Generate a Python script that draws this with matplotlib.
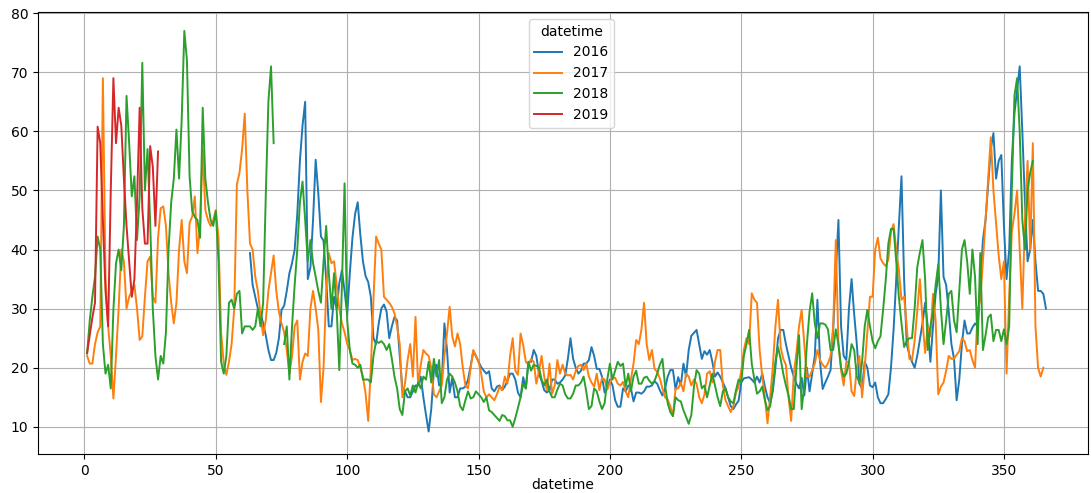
import numpy as np
import pandas as pd
import matplotlib
matplotlib.use("Agg")
import matplotlib.pyplot as plt

nan = np.nan

# ---------------------------------------------------------------------------
# DATA  (daily values, indexed by day of year)
# ---------------------------------------------------------------------------
YEARS = [2016, 2017, 2018, 2019]
FIRST_DAY = {2016: 63, 2017: 1, 2018: 1, 2019: 1}

values_2016 = [
    39.4, 34, 32, 30, 29.3, 27.5, 25.5, 23,                      # 63-70
    21.3, 21.3, 22.5, 25, 29.8, 30.5, 33, 36, 37.7, 40,
    46, 55, 61, 65, 35, 37, 45, 55.2, 49.5, 42.2,
    41.5, 35, 27, 27, 32, 30, 34.3, 36.5, 33, 29,
    36, 42, 46, 48, 42.5, 38, 35.5, 34.5, 32, 25,
    24, 27.5, 30, 30.7, 29.5, 25, 27, 28.6, 28, 22,
    16.5, 16, 15, 15, 16, 17, 17, 18.5, 15, 12,
    9.2, 13, 19.5, 20.5, 17, 17.5, 27.5, 23, 15.8, 18.3,
    15, 15, 16.5, 16.5, 16.8, 18, 20.3, 22.8, 22, 21,
    20.1, 19.5, 19, 19.4, 16.5, 16, 16.8, 17, 16.2, 16.8,
    17.8, 19, 19, 18, 15.8, 15, 18.4, 16.5, 21, 21,
    23, 22, 19, 17.8, 16.2, 15.8, 16.2, 18, 18, 17.3,
    17.5, 18, 18.7, 21.5, 25, 21.5, 20, 19, 19.5, 20.7,
    20.7, 21.3, 23.5, 22, 19.8, 19.8, 18.5, 15.8, 16.5, 18,
    17, 14.5, 13.4, 13.4, 16.5, 16, 17, 16.5, 14.3, 15.8,
    15.8, 15.6, 16, 16.8, 16.8, 17, 17.7, 17.3, 16.2, 15.3,
    16.5, 18.5, 19.6, 19.6, 16.3, 18.4, 17, 20.7, 18.5, 23,
    25.4, 25.9, 26.4, 24, 21.5, 22.8, 22.2, 23, 21, 18.5,
    19.2, 18.5, 17.5, 16.5, 15, 13.5, 13, 13.8, 14.4, 17.5,
    18.2, 18.3, 18.4, 18, 17.5, 18.5, 17.5, 19, 16.8, 15,
    14, 16, 20, 25, 26.4, 26.4, 24, 22, 20, 18.5,
    17.3, 16.5, 18.3, 15.3, 20, 16, 19, 22, 31.5, 21,
    16.4, 17.5, 18.5, 19.6, 26.5, 36, 45, 27, 22, 21.3,
    30, 35, 29, 24, 17.3, 16.5, 21, 20, 17, 16.7,
    17.5, 15, 14, 14, 14.7, 15.5, 20, 26.5, 35, 44,
    52.4, 35, 24, 22.2, 21, 20, 22, 24.7, 27.5, 31,
    27, 21, 27, 32.5, 35.5, 50, 35.4, 34, 29.5, 24,
    21.5, 14.5, 18, 24, 28, 25.8, 25.8, 26.8, 27.5, 27,
    34, 41.6, 45, 51, 57, 59.7, 52, 55, 56, 44,
    35, 40, 55, 63, 67, 71, 60, 48, 38, 40,
    45, 38, 33, 33, 32.5, 30,                                     # 361-366
]

values_2017 = [
    22, 20.7, 20.7, 24, 26, 27, 69, 35, 27, 22,
    14.8, 22, 30, 40, 38, 30, 32, 33, 34, 30,
    24.7, 25.3, 32, 38, 38.8, 32, 31, 42, 47, 47.3,
    44, 36, 31, 27.5, 31, 40, 45, 38, 36, 44.5,
    45.6, 49, 39.4, 44, 57, 46.7, 45, 44, 45, 46.7,
    42, 26, 20.7, 18.8, 21, 24, 30, 51, 53, 57,
    63, 50, 41, 40, 35.4, 33, 29, 25.5, 28, 33,
    36, 39, 33, 29.5, 27.5, 26, 23, 19, 22, 27,
    28, 18, 21, 22.4, 22, 30, 33, 30, 26.4, 14.2,
    20, 33, 39.4, 37.7, 38, 34, 30, 27.5, 26, 24,
    23, 21.3, 21.5, 21.3, 20, 18.5, 15.6, 11, 20, 31.5,
    42.2, 41, 40, 32, 31.5, 31, 30.3, 29.2, 27, 24,
    15, 17.3, 21.3, 24, 18.5, 28.6, 17, 20.5, 23, 22.4,
    22, 20, 15.5, 15, 16, 17, 22, 25.8, 30.3, 25.3,
    23.6, 25.8, 24, 20, 17, 16.5, 20, 23, 22, 21,
    19, 16, 15, 15.5, 15, 14.5, 15.5, 16.8, 16.2, 18.5,
    17.3, 22, 25, 19.5, 18.8, 25.8, 23.8, 21, 20.5, 21.5,
    21, 17.3, 19.4, 22, 18.5, 16.2, 20.7, 15.6, 17, 21.3,
    19, 20.5, 19, 18.7, 18.8, 18, 19.5, 20.3, 20.5, 19.6,
    20.7, 18.5, 17.5, 16.8, 19, 16.2, 18.3, 18, 16.3, 17.5,
    18.3, 18.3, 17.3, 17, 17.6, 16, 15, 18, 20.7, 24.7,
    24, 26.4, 31, 24, 21.3, 23, 19.8, 19.3, 18.2, 16.5,
    15, 14.6, 13.5, 11.8, 16.5, 16.5, 17.5, 16, 19, 18.5,
    17, 18, 17.3, 15, 14, 15.5, 19, 19.4, 17.5, 21,
    23, 23, 17, 14.5, 13.5, 12.5, 13.5, 15.8, 16.8, 19.5,
    23, 25, 24, 32.6, 31.5, 31, 23, 18.5, 15, 10.6,
    15, 20, 27, 31.5, 23.5, 21.5, 20.5, 15, 11, 19,
    22.5, 27, 29.8, 24, 18.5, 18.5, 19.6, 20.7, 23, 21.3,
    20.5, 20, 20.7, 22, 27, 41.6, 24, 19.6, 17, 21,
    21, 16, 15.2, 20, 22, 15, 20, 26, 32, 32,
    40, 42, 38.5, 37.7, 37.2, 38.3, 43, 44.3, 40, 36.5,
    31.5, 32, 27, 21.5, 21.3, 24.5, 29.5, 35, 28, 22.5,
    27, 25.3, 32.5, 28, 15.5, 16.8, 17.5, 19.5, 22, 21.5,
    21.5, 22.2, 22.8, 25, 24.5, 22.8, 23, 21.3, 20, 29.8,
    31.5, 38, 45, 52, 59, 50, 44.5, 39, 35, 38,
    19, 32, 43, 46, 50, 40, 30, 45, 55, 40,
    58, 27, 20, 18.5, 20,
]

values_2018 = [
    22.4, 28, 32, 35.4, 42.2, 40, 24, 19, 20.5, 16.5,
    29.8, 37.7, 40, 36.5, 44, 66, 58, 49, 52.4, 41.6,
    49, 71.6, 50, 57, 44.5, 30, 22, 18, 22, 20.7,
    26, 40, 48, 52, 60.3, 52, 62, 77, 72, 52.4,
    46.5, 45.5, 45, 42, 64, 52, 48, 45, 44, 46.5,
    38, 21, 19, 22, 31, 31.5, 30, 32.5, 33, 25.8,
    27, 27, 27, 26.4, 27, 30, 27, 31, 49, 65,
    71, 58, nan, nan, nan, 24, 27, 18, 27, 34,
    40, 48, 51.5, 45, 38, 41.6, 37.7, 35.4, 33, 31,
    38, 44, 36, 30, 36, 29.8, 19.6, 34, 51.2, 28,
    23, 20.7, 20.5, 20, 20.5, 18, 18, 18, 17.5, 22,
    24.5, 24.2, 24.5, 24, 23, 24, 21.5, 18.5, 16.5, 13,
    12, 16, 16.5, 15.3, 17, 15.8, 17.5, 16.5, 18.5, 18,
    21, 17.5, 21.5, 18.5, 21.3, 14, 15, 18, 19, 18.5,
    17.5, 16, 13.5, 12.8, 14.5, 16, 14.8, 15, 16, 15.5,
    15, 14.2, 15, 12.8, 12.5, 12, 11.5, 11, 12, 11.8,
    11.1, 11.1, 10, 11.5, 13.2, 15, 17.3, 16.5, 21, 19.5,
    20.5, 20.3, 20, 18, 17, 18, 16, 15, 15, 16.3,
    17.3, 17, 15.5, 14.8, 14.8, 15.6, 17, 17, 17.5, 18.5,
    16, 13, 13.5, 16.5, 16, 14.3, 13, 14, 18, 20.7,
    18, 19.5, 21, 20.3, 20.7, 16.8, 19, 16, 18.5, 19.5,
    17.3, 17.3, 18.3, 18.5, 17.8, 17.3, 17.8, 19, 20.5, 21.5,
    17, 14, 12.5, 11.8, 15, 14.5, 14.3, 12.8, 11.7, 10.5,
    12, 16.8, 19.6, 19, 16.5, 17, 15, 17, 19, 17,
    15, 13.5, 16, 16.5, 15, 14.3, 14, 16.2, 18, 17.5,
    22, 24, 26.4, 20.7, 18, 15.6, 16, 16.8, 14.5, 12.8,
    13.5, 16.5, 21, 23.5, 21.5, 19, 17, 15.3, 13, 13,
    20, 25.5, 13, 17, 24, 29.5, 32.6, 27.5, 25, 27.5,
    27.5, 27.3, 26.5, 23, 23, 26.5, 24, 20, 18.5, 19,
    21, 24, 23, 18.5, 17.5, 21, 27, 29.8, 27, 24.5,
    23.3, 24.5, 25.3, 29.8, 34.8, 41, 43.5, 43.5, 38, 32,
    27.5, 23.5, 24.5, 25, 25, 30, 37, 39.5, 41.6, 35,
    23, 27, 29.5, 34, 37.5, 30, 24, 28, 32.5, 33,
    28, 26, 33, 40, 41.6, 38, 32.5, 40, 35.4, 24,
    39.4, 23, 25.5, 28.5, 29, 24.5, 26.4, 26.4, 24.5, 26.5,
    24, 27, 50, 66, 69, 60, 45, 40, 50, 53,
    55,
]

values_2019 = [
    22.5, 25.5, 28.5, 31, 60.8, 58, 45, 33, 27, 50,
    69, 58, 64, 61, 52, 44, 38, 32, 35, 48,
    64, 47, 41, 41, 57.5, 54, 44, 56.6,
]

SERIES = {2016: values_2016, 2017: values_2017, 2018: values_2018, 2019: values_2019}

# ---------------------------------------------------------------------------
# FRAME
# ---------------------------------------------------------------------------
days = np.arange(1, 367)
df = pd.DataFrame(index=days)
for yr in YEARS:
    vals = SERIES[yr]
    idx = np.arange(FIRST_DAY[yr], FIRST_DAY[yr] + len(vals))
    df[yr] = pd.Series(vals, index=idx).reindex(days)
df.index.name = "datetime"
df.columns.name = "datetime"

# ---------------------------------------------------------------------------
# PLOT
# ---------------------------------------------------------------------------
fig = plt.figure(figsize=(10.91, 4.93), dpi=100)
ax = fig.add_axes([38 / 1091, 39 / 493, 1050 / 1091, 442 / 493])

df.plot(ax=ax, grid=True, lw=1.4)

ax.set_xlim(-17.7, 382)
ax.set_ylim(5.4, 80.2)
ax.set_xticks(np.arange(0, 351, 50))
ax.set_yticks(np.arange(10, 81, 10))
ax.tick_params(labelsize=10)
ax.set_xlabel("datetime", fontsize=10, labelpad=0)
ax.legend(title="datetime", loc="upper center",
          bbox_to_anchor=(0.508, 1.0), fontsize=10, title_fontsize=10)

fig.savefig("out.png", dpi=100)
